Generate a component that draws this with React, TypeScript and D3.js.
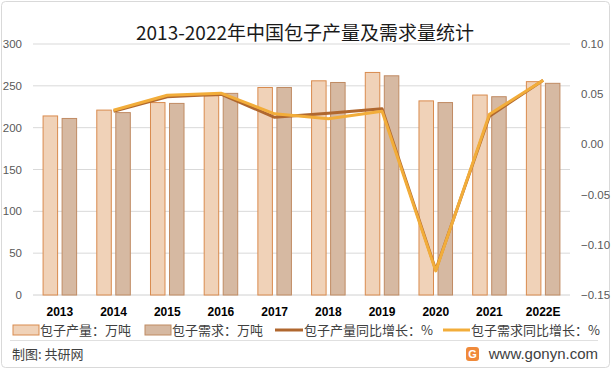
import React from "react";
import * as d3 from "d3";

const years = ["2013", "2014", "2015", "2016", "2017", "2018", "2019", "2020", "2021", "2022E"];
const production = [214, 221, 230, 238, 248, 256, 266, 232, 239, 255];
const demand = [211, 218, 229, 241, 248, 254, 262, 230, 237, 253];
const productionGrowth = [null, 0.033, 0.0475, 0.05, 0.027, 0.031, 0.0355, -0.125, 0.028, 0.064];
const demandGrowth = [null, 0.034, 0.049, 0.051, 0.0305, 0.0256, 0.033, -0.126, 0.03, 0.064];
const leftTicks = [0, 50, 100, 150, 200, 250, 300];
const rightTicks = [-0.15, -0.1, -0.05, 0, 0.05, 0.1];

const W = 611, H = 369;
const margin = { top: 44, right: 41, bottom: 74, left: 33 };
const CJK = "'Noto Sans CJK SC', 'Noto Sans', sans-serif";
const NUM = "'Liberation Sans', Arial, sans-serif";

const prodFill = "#F0D2B8", prodStroke = "#D98B4E";
const demFill = "#D6B9A2", demStroke = "#C08B63";
const prodLine = "#B0672E", demLine = "#F2AD3A";

export default function App() {
  const x0 = margin.left, x1 = W - margin.right;
  const y0 = H - margin.bottom, y1 = margin.top;

  const x = d3.scaleBand().domain(years).range([x0, x1]);
  const xs = d3.scaleBand<number>().domain([0, 1]).range([0, x.bandwidth()]).paddingInner(0.237).paddingOuter(0.53);
  const yL = d3.scaleLinear().domain([0, 300]).range([y0, y1]);
  const yR = d3.scaleLinear().domain([-0.15, 0.1]).range([y0, y1]);

  const line = d3
    .line<[string, number | null]>()
    .defined((d) => d[1] !== null)
    .x((d) => (x(d[0]) as number) + x.bandwidth() / 2)
    .y((d) => yR(d[1] as number));

  const prodPts = years.map((yr, i) => [yr, productionGrowth[i]] as [string, number | null]);
  const demPts = years.map((yr, i) => [yr, demandGrowth[i]] as [string, number | null]);

  return (
    <svg width={W} height={H} style={{ position: "absolute", left: 0, top: 0, background: "#fff" }}>
      <rect x={1.5} y={1.5} width={W - 3} height={H - 3} rx={4} fill="#fff" stroke="#d9d9d9" />

      {/* gridlines */}
      {leftTicks.map((t) => (
        <line key={t} x1={x0} x2={x1} y1={yL(t)} y2={yL(t)} stroke={t === 0 ? "#d0d0d0" : "#d9d9d9"} strokeWidth={1} />
      ))}

      {/* left axis labels */}
      {leftTicks.map((t) => (
        <text key={t} x={22} y={yL(t)} dy="0.35em" textAnchor="end" fontFamily={NUM} fontSize={11.5} fill="#595959">
          {t}
        </text>
      ))}

      {/* right axis labels */}
      {rightTicks.map((t) => (
        <text key={t} x={581} y={yR(t)} dy="0.35em" textAnchor="start" fontFamily={NUM} fontSize={11.5} fill="#595959">
          {d3.format(".2f")(t)}
        </text>
      ))}

      {/* bars */}
      {years.map((yr, i) => (
        <g key={yr}>
          <rect
            x={(x(yr) as number) + (xs(0) as number)}
            y={yL(production[i])}
            width={xs.bandwidth()}
            height={y0 - yL(production[i])}
            fill={prodFill}
            stroke={prodStroke}
            strokeWidth={1}
          />
          <rect
            x={(x(yr) as number) + (xs(1) as number)}
            y={yL(demand[i])}
            width={xs.bandwidth()}
            height={y0 - yL(demand[i])}
            fill={demFill}
            stroke={demStroke}
            strokeWidth={1}
          />
        </g>
      ))}

      {/* lines */}
      <path d={line(prodPts) || ""} fill="none" stroke={prodLine} strokeWidth={3} strokeLinejoin="round" />
      <path d={line(demPts) || ""} fill="none" stroke={demLine} strokeWidth={3} strokeLinejoin="round" />

      {/* x labels */}
      {years.map((yr) => (
        <text
          key={yr}
          x={(x(yr) as number) + x.bandwidth() / 2}
          y={312}
          dy="0.35em"
          textAnchor="middle"
          fontFamily={NUM}
          fontWeight="bold"
          fontSize={12}
          fill="#000"
        >
          {yr}
        </text>
      ))}

      {/* title */}
      <text x={305} y={33} dy="0.35em" textAnchor="middle" fontFamily={CJK} fontSize={19} fill="#1a1a1a">
        2013-2022年中国包子产量及需求量统计
      </text>

      {/* legend */}
      <g fontFamily={CJK} fontSize={13} fill="#404040">
        <rect x={13} y={325} width={26} height={10} fill={prodFill} stroke={prodStroke} />
        <text x={40} y={330} dy="0.35em">包子产量：万吨</text>
        <rect x={145} y={325} width={26} height={10} fill={demFill} stroke={demStroke} />
        <text x={172} y={330} dy="0.35em">包子需求：万吨</text>
        <line x1={275} x2={303} y1={330} y2={330} stroke={prodLine} strokeWidth={3} />
        <text x={304} y={330} dy="0.35em">包子产量同比增长：%</text>
        <line x1={443} x2={470} y1={330} y2={330} stroke={demLine} strokeWidth={3} />
        <text x={471} y={330} dy="0.35em">包子需求同比增长：%</text>
      </g>

      {/* footer */}
      <line x1={10} x2={598} y1={340.5} y2={340.5} stroke="#e0e0e0" />
      <text x={12} y={354} dy="0.35em" fontFamily={CJK} fontSize={13} fill="#404040">
        制图: 共研网
      </text>
      <rect x={466} y={347} width={13} height={14} rx={3} fill="#F08A3A" />
      <text x={472.5} y={354} dy="0.35em" textAnchor="middle" fontFamily={NUM} fontWeight="bold" fontSize={11} fill="#fff">
        G
      </text>
      <text x={598} y={354} dy="0.35em" textAnchor="end" fontFamily={NUM} fontSize={15} fill="#404040">
        www.gonyn.com
      </text>
    </svg>
  );
}
